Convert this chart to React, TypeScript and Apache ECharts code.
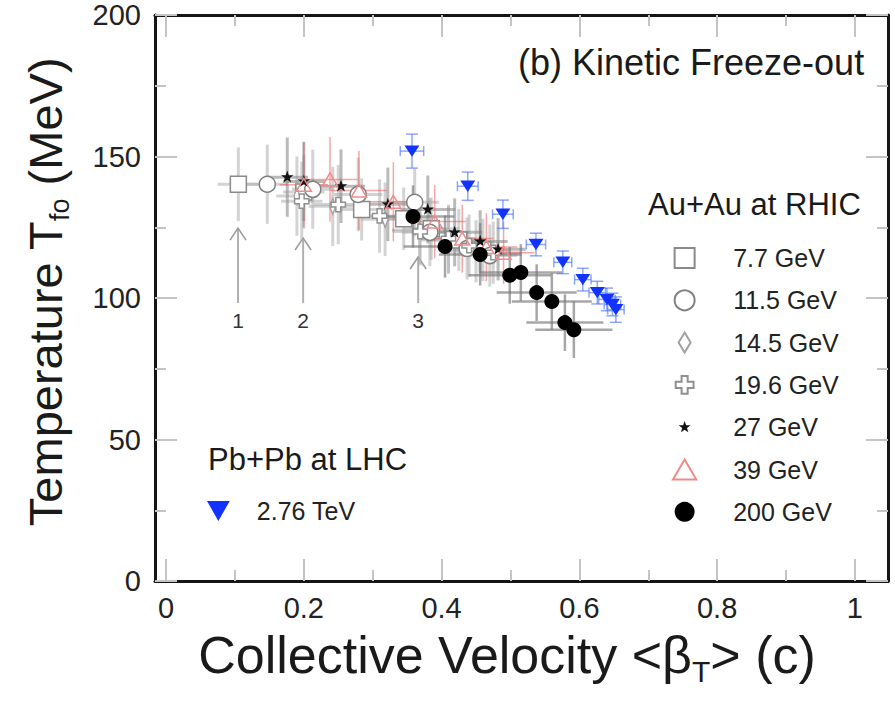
import React, { useEffect, useRef } from "react";
import * as echarts from "echarts";

const FONT = "'Liberation Sans', Arial, Helvetica, sans-serif";

// Axis ranges and ticks
const X_MIN = -0.016;
const X_MAX = 1.048;
const X_MAJOR_TICKS = [0, 0.2, 0.4, 0.6, 0.8, 1];
const X_MINOR_TICKS = [0.1, 0.3, 0.5, 0.7, 0.9];
const Y_MIN = 0;
const Y_MAX = 200;
const Y_STEP = 50;

// Au+Au 7.7 GeV
const AU77_BETA = [0.105, 0.2, 0.284, 0.345, 0.385, 0.425, 0.46];
const AU77_T = [140.2, 137.5, 131.3, 128.0, 124.5, 120.5, 117.0];
const AU77_DBETA = [0.03, 0.03, 0.035, 0.035, 0.04, 0.04, 0.04];
const AU77_DT = [13, 13, 11, 11, 11, 11, 11];

// Au+Au 11.5 GeV
const AU115_BETA = [0.147, 0.213, 0.279, 0.361, 0.383, 0.437, 0.47];
const AU115_T = [140.2, 138.4, 136.6, 133.8, 123.2, 117.5, 115.0];
const AU115_DBETA = [0.03, 0.03, 0.035, 0.035, 0.04, 0.04, 0.04];
const AU115_DT = [14, 14, 13, 12, 12, 11, 11];

// Au+Au 14.5 GeV
const AU145_BETA = [0.19, 0.242, 0.318, 0.368, 0.41, 0.45];
const AU145_T = [136.0, 132.4, 127.8, 124.0, 120.5, 116.5];
const AU145_DBETA = [0.03, 0.035, 0.035, 0.04, 0.04, 0.04];
const AU145_DT = [14, 14, 13, 12, 12, 11];

// Au+Au 19.6 GeV
const AU196_BETA = [0.197, 0.25, 0.31, 0.369, 0.41, 0.44, 0.475];
const AU196_T = [134.2, 133.0, 129.0, 123.5, 121.0, 118.5, 116.0];
const AU196_DBETA = [0.03, 0.035, 0.035, 0.04, 0.04, 0.04, 0.04];
const AU196_DT = [14, 14, 13, 12, 12, 11, 11];

// Au+Au 27 GeV
const AU27_BETA = [0.176, 0.2, 0.254, 0.322, 0.38, 0.419, 0.456, 0.482];
const AU27_T = [142.7, 141.2, 139.5, 133.1, 131.3, 123.2, 120.0, 117.2];
const AU27_DBETA = [0.03, 0.03, 0.035, 0.035, 0.04, 0.04, 0.04, 0.04];
const AU27_DT = [14, 14, 13, 13, 12, 12, 11, 11];

// Au+Au 39 GeV
const AU39_BETA = [0.2, 0.238, 0.28, 0.33, 0.39, 0.43, 0.465, 0.49];
const AU39_T = [140.0, 141.9, 138.0, 134.0, 127.0, 121.0, 118.0, 116.0];
const AU39_DBETA = [0.035, 0.04, 0.04, 0.04, 0.045, 0.045, 0.045, 0.045];
const AU39_DT = [15, 15, 14, 14, 13, 12, 12, 11];

// Au+Au 200 GeV
const AU200_BETA = [0.3585, 0.405, 0.456, 0.499, 0.515, 0.538, 0.56, 0.579, 0.592];
const AU200_T = [128.8, 118.2, 115.4, 108.0, 109.0, 101.9, 98.8, 91.3, 88.8];
const AU200_DBETA = [0.06, 0.06, 0.06, 0.06, 0.06, 0.058, 0.058, 0.056, 0.056];
const AU200_DT = [11, 11, 11, 10, 10, 10, 10, 10, 10];

// Pb+Pb 2.76 TeV
const PB_BETA = [0.357, 0.438, 0.489, 0.537, 0.576, 0.605, 0.626, 0.64, 0.648, 0.653];
const PB_T = [151.9, 139.5, 129.6, 118.9, 112.6, 106.5, 101.9, 99.5, 97.7, 95.9];
const PB_DBETA = [0.017, 0.015, 0.015, 0.014, 0.013, 0.012, 0.012, 0.012, 0.012, 0.012];
const PB_DT = [6, 5, 5, 4, 4, 4, 4, 4, 4, 4.5];

// Arrows
const ARROW_BETA = [0.1045, 0.199, 0.366];
const ARROW_TAIL_T = [98.2, 98.2, 98.2];
const ARROW_TIP_T = [124.7, 121.2, 114.5];
const ARROW_LABELS = ["1", "2", "3"];
const ARROW_LABEL_T = 92.2;

const LEGEND_AU = ["7.7 GeV", "11.5 GeV", "14.5 GeV", "19.6 GeV", "27 GeV", "39 GeV", "200 GeV"];
const LEGEND_PB = ["2.76 TeV"];

const SQUARE_PATH = "path://M0,0 L100,0 L100,100 L0,100 Z";
const STAR_PATH =
  "path://M-30,-30 M130,130 M50,0 L61.8,35.3 L97.6,34.5 L69,56.3 L79.4,90.5 L50,70 L20.6,90.5 L31,56.3 L2.4,34.5 L38.2,35.3 Z";
const CROSS_PATH =
  "path://M-6,-6 M106,106 M33,0 L67,0 L67,33 L100,33 L100,67 L67,67 L67,100 L33,100 L33,67 L0,67 L0,33 L33,33 Z";
const DIAMOND_PATH = "path://M30,0 L60,50 L30,100 L0,50 Z";
const TRI_UP_PATH = "path://M50,0 L100,86 L0,86 Z";
const TRI_DOWN_PATH = "path://M0,0 L100,0 L50,88 Z";

type SetDef = {
  name: string;
  beta: number[];
  t: number[];
  dBeta: number[];
  dT: number[];
  symbol: string;
  size: number | number[];
  fill: string;
  stroke: string;
  strokeW: number;
  errColor: string;
  errW: number;
  caps?: boolean;
};

const BES_ERR = "rgba(175,175,175,0.55)";

const SETS: SetDef[] = [
  { name: "7.7 GeV", beta: AU77_BETA, t: AU77_T, dBeta: AU77_DBETA, dT: AU77_DT, symbol: SQUARE_PATH, size: 16, fill: "#ffffff", stroke: "#8a8a8a", strokeW: 1.5, errColor: BES_ERR, errW: 3 },
  { name: "11.5 GeV", beta: AU115_BETA, t: AU115_T, dBeta: AU115_DBETA, dT: AU115_DT, symbol: "circle", size: 16, fill: "#ffffff", stroke: "#808080", strokeW: 1.5, errColor: BES_ERR, errW: 3 },
  { name: "14.5 GeV", beta: AU145_BETA, t: AU145_T, dBeta: AU145_DBETA, dT: AU145_DT, symbol: DIAMOND_PATH, size: [10, 16], fill: "#ffffff", stroke: "#a0a0a0", strokeW: 1.5, errColor: BES_ERR, errW: 3 },
  { name: "19.6 GeV", beta: AU196_BETA, t: AU196_T, dBeta: AU196_DBETA, dT: AU196_DT, symbol: CROSS_PATH, size: 16, fill: "#ffffff", stroke: "#909090", strokeW: 1.5, errColor: BES_ERR, errW: 3 },
  { name: "27 GeV", beta: AU27_BETA, t: AU27_T, dBeta: AU27_DBETA, dT: AU27_DT, symbol: STAR_PATH, size: 21, fill: "#111111", stroke: "#111111", strokeW: 0, errColor: "rgba(140,140,140,0.6)", errW: 3 },
  { name: "39 GeV", beta: AU39_BETA, t: AU39_T, dBeta: AU39_DBETA, dT: AU39_DT, symbol: TRI_UP_PATH, size: 15, fill: "rgba(255,255,255,0)", stroke: "#f08a8a", strokeW: 1.5, errColor: "rgba(235,80,80,0.5)", errW: 1.5 },
  { name: "200 GeV", beta: AU200_BETA, t: AU200_T, dBeta: AU200_DBETA, dT: AU200_DT, symbol: "circle", size: 15, fill: "#000000", stroke: "#000000", strokeW: 0, errColor: "rgba(120,120,120,0.65)", errW: 2.5 },
  { name: "2.76 TeV", beta: PB_BETA, t: PB_T, dBeta: PB_DBETA, dT: PB_DT, symbol: TRI_DOWN_PATH, size: [15, 13], fill: "#1233ff", stroke: "#1233ff", strokeW: 0, errColor: "rgba(80,120,255,0.65)", errW: 1.5, caps: true },
];

function errorSeries(s: SetDef): any {
  return {
    type: "custom",
    name: s.name + " err",
    silent: true,
    z: 1,
    encode: { x: 0, y: 1 },
    data: s.beta.map((b, i) => [b, s.t[i], s.dBeta[i], s.dT[i]]),
    renderItem: (_params: any, api: any) => {
      const b = api.value(0);
      const t = api.value(1);
      const db = api.value(2);
      const dt = api.value(3);
      const L = api.coord([b - db, t]);
      const R = api.coord([b + db, t]);
      const B = api.coord([b, t - dt]);
      const T = api.coord([b, t + dt]);
      const style = { stroke: s.errColor, lineWidth: s.errW, fill: "none" };
      const children: any[] = [
        { type: "line", shape: { x1: L[0], y1: L[1], x2: R[0], y2: R[1] }, style },
        { type: "line", shape: { x1: B[0], y1: B[1], x2: T[0], y2: T[1] }, style },
      ];
      if (s.caps) {
        const cw = 6;
        const ch = 5;
        children.push(
          { type: "line", shape: { x1: T[0] - cw, y1: T[1], x2: T[0] + cw, y2: T[1] }, style },
          { type: "line", shape: { x1: B[0] - cw, y1: B[1], x2: B[0] + cw, y2: B[1] }, style },
          { type: "line", shape: { x1: L[0], y1: L[1] - ch, x2: L[0], y2: L[1] + ch }, style },
          { type: "line", shape: { x1: R[0], y1: R[1] - ch, x2: R[0], y2: R[1] + ch }, style }
        );
      }
      return { type: "group", children };
    },
  };
}

function markerSeries(s: SetDef): any {
  return {
    type: "scatter",
    name: s.name,
    z: 3,
    symbol: s.symbol,
    symbolSize: s.size,
    symbolKeepAspect: true,
    data: s.beta.map((b, i) => [b, s.t[i]]),
    itemStyle: { color: s.fill, borderColor: s.stroke, borderWidth: s.strokeW, opacity: 1 },
    emphasis: { disabled: true },
  };
}

const arrowSeries: any = {
  type: "custom",
  name: "arrows",
  silent: true,
  z: 1,
  encode: { x: 0, y: 1 },
  data: ARROW_BETA.map((b, i) => [b, ARROW_TAIL_T[i], ARROW_TIP_T[i]]),
  renderItem: (params: any, api: any) => {
    const b = api.value(0);
    const p0 = api.coord([b, api.value(1)]);
    const p1 = api.coord([b, api.value(2)]);
    const pl = api.coord([b, ARROW_LABEL_T]);
    return {
      type: "group",
      children: [
        { type: "line", shape: { x1: p0[0], y1: p0[1], x2: p1[0], y2: p1[1] }, style: { stroke: "#b0b0b0", lineWidth: 2 } },
        {
          type: "polyline",
          shape: { points: [[p1[0] - 8, p1[1] + 12], [p1[0], p1[1]], [p1[0] + 8, p1[1] + 12]] },
          style: { stroke: "#9a9a9a", lineWidth: 1.5, fill: "none" },
        },
        {
          type: "text",
          x: pl[0],
          y: pl[1],
          style: { text: ARROW_LABELS[params.dataIndex], fontSize: 21, fontFamily: FONT, fill: "#333", align: "center", verticalAlign: "middle" },
        },
      ],
    };
  },
};

const tickStyle = { color: "#c4c4c4", width: 2 };
const frameLine = { show: true, onZero: false, lineStyle: { color: "#151515", width: 3 } };

function xAxisDef(position: string, ticks: number[], len: number, showLine: boolean, showLabel: boolean): any {
  return {
    type: "value",
    gridIndex: 0,
    position,
    min: X_MIN,
    max: X_MAX,
    axisLine: showLine ? frameLine : { show: false, onZero: false },
    axisTick: { show: true, inside: true, length: len, customValues: ticks, lineStyle: tickStyle },
    axisLabel: {
      show: showLabel,
      customValues: ticks,
      margin: 12,
      fontSize: 29,
      fontFamily: FONT,
      color: "#222",
      formatter: (v: number) => String(v),
    },
    splitLine: { show: false },
    minorTick: { show: false },
  };
}

function yAxisDef(position: string, showLabel: boolean): any {
  return {
    type: "value",
    gridIndex: 0,
    position,
    min: Y_MIN,
    max: Y_MAX,
    interval: Y_STEP,
    axisLine: frameLine,
    axisTick: { show: true, inside: true, length: 22, lineStyle: tickStyle },
    minorTick: { show: true, splitNumber: 2, length: 11, lineStyle: tickStyle },
    axisLabel: { show: showLabel, margin: 14, fontSize: 29, fontFamily: FONT, color: "#222" },
    splitLine: { show: false },
  };
}

export default function App() {
  const ref = useRef<HTMLDivElement>(null);
  useEffect(() => {
    if (!ref.current) return;
    const chart = echarts.init(ref.current, undefined, { renderer: "svg" });
    const xTitleRich = {
      a: { fontSize: 52, fontFamily: FONT, fill: "#1a1a1a", lineHeight: 63 },
      s: { fontSize: 30, fontFamily: FONT, fill: "#1a1a1a", lineHeight: 30, verticalAlign: "bottom" },
    };
    const yTitleRich = {
      a: { fontSize: 47, fontFamily: FONT, fill: "#1a1a1a", lineHeight: 57 },
      s: { fontSize: 27, fontFamily: FONT, fill: "#1a1a1a", lineHeight: 27, verticalAlign: "bottom" },
    };
    chart.setOption({
      animation: false,
      backgroundColor: "#ffffff",
      grid: { left: 155, right: 7, top: 15, bottom: 122, containLabel: false },
      xAxis: [
        xAxisDef("bottom", X_MAJOR_TICKS, 22, true, true),
        xAxisDef("bottom", X_MINOR_TICKS, 11, false, false),
        xAxisDef("top", X_MAJOR_TICKS, 22, true, false),
        xAxisDef("top", X_MINOR_TICKS, 11, false, false),
      ],
      yAxis: [yAxisDef("left", true), yAxisDef("right", false)],
      legend: [
        {
          data: LEGEND_AU,
          orient: "vertical",
          left: 672,
          top: 245.5,
          padding: 0,
          itemWidth: 67,
          itemHeight: 20,
          itemGap: 17.3,
          selectedMode: false,
          textStyle: { fontSize: 25, fontFamily: FONT, color: "#222", lineHeight: 25, padding: [0, 0, 0, 10] },
        },
        {
          data: LEGEND_PB,
          orient: "vertical",
          left: 207,
          top: 498.5,
          padding: 0,
          itemWidth: 67,
          itemHeight: 20,
          selectedMode: false,
          textStyle: { fontSize: 25, fontFamily: FONT, color: "#222", lineHeight: 25 },
        },
      ],
      graphic: [
        { type: "text", x: 518, y: 62, style: { text: "(b) Kinetic Freeze-out", fontSize: 36, fontFamily: FONT, fill: "#1a1a1a", align: "left", verticalAlign: "middle" } },
        { type: "text", x: 648, y: 204, style: { text: "Au+Au at RHIC", fontSize: 31, fontFamily: FONT, fill: "#1a1a1a", align: "left", verticalAlign: "middle" } },
        { type: "text", x: 208, y: 459, style: { text: "Pb+Pb at LHC", fontSize: 31, fontFamily: FONT, fill: "#1a1a1a", align: "left", verticalAlign: "middle" } },
        {
          type: "text",
          x: 507,
          y: 655,
          style: { text: "{a|Collective Velocity <β}{s|T}{a|> (c)}", rich: xTitleRich, align: "center", verticalAlign: "middle" },
        },
        {
          type: "text",
          x: 45,
          y: 292,
          rotation: Math.PI / 2,
          style: { text: "{a|Temperature T}{s|fo}{a| (MeV)}", rich: yTitleRich, align: "center", verticalAlign: "middle" },
        },
      ],
      series: [
        arrowSeries,
        ...SETS.map(errorSeries),
        ...SETS.map(markerSeries),
      ],
    });
    return () => chart.dispose();
  }, []);
  return <div ref={ref} style={{ position: "absolute", left: 0, top: 0, width: 895, height: 703 }} />;
}
